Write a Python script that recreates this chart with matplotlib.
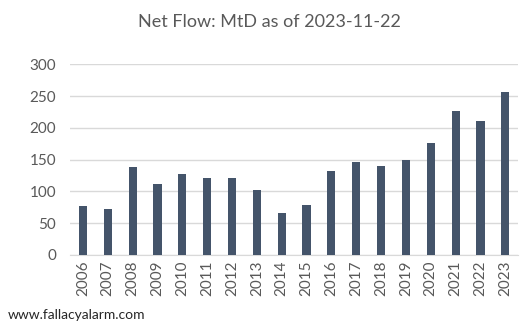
import matplotlib
matplotlib.use("Agg")
import matplotlib.pyplot as plt

years = ["2006", "2007", "2008", "2009", "2010", "2011", "2012", "2013", "2014",
         "2015", "2016", "2017", "2018", "2019", "2020", "2021", "2022", "2023"]
net_flow = [77, 72, 138, 112, 127, 121, 121, 102, 66,
            79, 132, 146, 140, 149, 176, 226, 211, 256]
yticks = [0, 50, 100, 150, 200, 250, 300]

plt.rcParams['font.family'] = ['Lato', 'DejaVu Sans']

fig = plt.figure(figsize=(5.28, 3.23), dpi=100)
ax = fig.add_axes([70 / 528, 1 - 255 / 323, 448 / 528, (255 - 64.3) / 323])

x = range(len(years))
ax.bar(x, net_flow, width=0.33, color="#44546A", zorder=3)

ax.set_ylim(0, 300)
ax.set_xlim(-0.52, len(years) - 0.49)
ax.set_yticks(yticks)
ax.set_xticks(list(x))
ax.set_xticklabels(years, rotation=90)
ax.grid(axis="y", color="#D9D9D9", linewidth=1, zorder=0)
for s in ["top", "right", "left"]:
    ax.spines[s].set_visible(False)
ax.spines["bottom"].set_color("#D9D9D9")
ax.tick_params(axis="both", length=0, labelsize=11, labelcolor="#595959")
ax.tick_params(axis="y", pad=10)
ax.tick_params(axis="x", pad=4)

fig.text(0.51, 1 - 22 / 323, "Net Flow: MtD as of 2023-11-22", ha="center", va="center",
         fontsize=13, color="#595959")
fig.text(8 / 528, 1 - 315 / 323, "www.fallacyalarm.com", ha="left", va="center",
         fontsize=10, color="#262626")

fig.savefig("out.png", dpi=100)
